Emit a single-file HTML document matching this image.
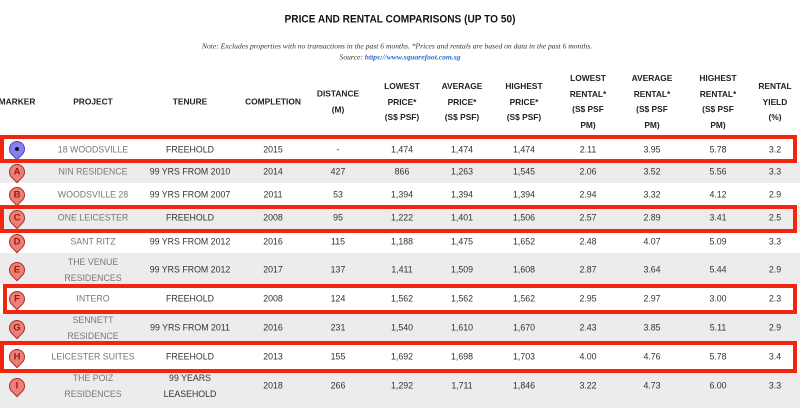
<!DOCTYPE html>
<html><head><meta charset="utf-8"><style>
*{margin:0;padding:0;box-sizing:border-box}
body{width:800px;height:408px;background:#fff;position:relative;overflow:hidden;font-family:"Liberation Sans",sans-serif}
.t{position:absolute;transform:translate(-50%,-50%);white-space:nowrap;text-align:center;font-size:8.8px;color:#333;line-height:11px}
.p{color:#777}
.h{font-weight:bold;color:#222;font-size:8.4px;line-height:15.5px}
.band{position:absolute;left:0;width:800px;background:#ececec}
.box{position:absolute;border:4px solid #f2260f}
.m{position:absolute;width:16px;height:16px;border-radius:50% 50% 50% 0;transform:rotate(-45deg);background:#ec7f76;border:1.5px solid #a33028}
.ml{position:absolute;transform:translate(-50%,-50%);font-size:9.5px;color:#9a1a12;font-weight:bold}
</style></head><body>
<div class="t" style="left:400px;top:20px;font-weight:bold;font-size:11px;color:#111;transform:translate(-50%,-50%) scaleX(0.92)">PRICE AND RENTAL COMPARISONS (UP TO 50)</div>
<div class="t" style="left:397px;top:46px;font-family:'Liberation Serif',serif;font-style:italic;font-size:7.6px;color:#333">Note: Excludes properties with no transactions in the past 6 months. *Prices and rentals are based on data in the past 6 months.</div>
<div class="t" style="left:400px;top:57px;font-family:'Liberation Serif',serif;font-style:italic;font-size:7.6px;color:#333">Source: <b style="color:#2a6fd0">https://www.squarefoot.com.sg</b></div>

<div class="t h" style="left:17px;top:102px">MARKER</div>
<div class="t h" style="left:93px;top:102px">PROJECT</div>
<div class="t h" style="left:190px;top:102px">TENURE</div>
<div class="t h" style="left:273px;top:102px">COMPLETION</div>
<div class="t h" style="left:338px;top:102px">DISTANCE<br>(M)</div>
<div class="t h" style="left:402px;top:102px">LOWEST<br>PRICE*<br>(S$ PSF)</div>
<div class="t h" style="left:462px;top:102px">AVERAGE<br>PRICE*<br>(S$ PSF)</div>
<div class="t h" style="left:524px;top:102px">HIGHEST<br>PRICE*<br>(S$ PSF)</div>
<div class="t h" style="left:588px;top:102px">LOWEST<br>RENTAL*<br>(S$ PSF<br>PM)</div>
<div class="t h" style="left:652px;top:102px">AVERAGE<br>RENTAL*<br>(S$ PSF<br>PM)</div>
<div class="t h" style="left:718px;top:102px">HIGHEST<br>RENTAL*<br>(S$ PSF<br>PM)</div>
<div class="t h" style="left:775px;top:102px">RENTAL<br>YIELD<br>(%)</div>

<div class="band" style="top:162px;height:21px"></div>
<div class="band" style="top:206px;height:26px"></div>
<div class="band" style="top:253px;height:31px"></div>
<div class="band" style="top:313px;height:28px"></div>
<div class="band" style="top:372px;height:36px"></div>

<!-- markers -->
<div class="m" style="left:9px;top:141px;background:#8a7ff0;border-color:#4a3fb0"></div>
<div style="position:absolute;left:15px;top:147px;width:4px;height:4px;border-radius:50%;background:#111"></div>
<div class="m" style="left:9px;top:164px"></div><div class="ml" style="left:17px;top:172px">A</div>
<div class="m" style="left:9px;top:187px"></div><div class="ml" style="left:17px;top:195px">B</div>
<div class="m" style="left:9px;top:210px"></div><div class="ml" style="left:17px;top:218px">C</div>
<div class="m" style="left:9px;top:234px"></div><div class="ml" style="left:17px;top:242px">D</div>
<div class="m" style="left:9px;top:262px"></div><div class="ml" style="left:17px;top:270px">E</div>
<div class="m" style="left:9px;top:291px"></div><div class="ml" style="left:17px;top:299px">F</div>
<div class="m" style="left:9px;top:320px"></div><div class="ml" style="left:17px;top:328px">G</div>
<div class="m" style="left:9px;top:349px"></div><div class="ml" style="left:17px;top:357px">H</div>
<div class="m" style="left:9px;top:378px"></div><div class="ml" style="left:17px;top:386px">I</div>

<!-- row 0 -->
<div class="t p" style="left:93px;top:150px">18 WOODSVILLE</div><div class="t" style="left:190px;top:150px">FREEHOLD</div><div class="t" style="left:273px;top:150px">2015</div><div class="t" style="left:338px;top:150px">-</div><div class="t" style="left:402px;top:150px">1,474</div><div class="t" style="left:462px;top:150px">1,474</div><div class="t" style="left:524px;top:150px">1,474</div><div class="t" style="left:588px;top:150px">2.11</div><div class="t" style="left:652px;top:150px">3.95</div><div class="t" style="left:718px;top:150px">5.78</div><div class="t" style="left:775px;top:150px">3.2</div>
<!-- A -->
<div class="t p" style="left:93px;top:172px">NIN RESIDENCE</div><div class="t" style="left:190px;top:172px">99 YRS FROM 2010</div><div class="t" style="left:273px;top:172px">2014</div><div class="t" style="left:338px;top:172px">427</div><div class="t" style="left:402px;top:172px">866</div><div class="t" style="left:462px;top:172px">1,263</div><div class="t" style="left:524px;top:172px">1,545</div><div class="t" style="left:588px;top:172px">2.06</div><div class="t" style="left:652px;top:172px">3.52</div><div class="t" style="left:718px;top:172px">5.56</div><div class="t" style="left:775px;top:172px">3.3</div>
<!-- B -->
<div class="t p" style="left:93px;top:195px">WOODSVILLE 28</div><div class="t" style="left:190px;top:195px">99 YRS FROM 2007</div><div class="t" style="left:273px;top:195px">2011</div><div class="t" style="left:338px;top:195px">53</div><div class="t" style="left:402px;top:195px">1,394</div><div class="t" style="left:462px;top:195px">1,394</div><div class="t" style="left:524px;top:195px">1,394</div><div class="t" style="left:588px;top:195px">2.94</div><div class="t" style="left:652px;top:195px">3.32</div><div class="t" style="left:718px;top:195px">4.12</div><div class="t" style="left:775px;top:195px">2.9</div>
<!-- C -->
<div class="t p" style="left:93px;top:218px">ONE LEICESTER</div><div class="t" style="left:190px;top:218px">FREEHOLD</div><div class="t" style="left:273px;top:218px">2008</div><div class="t" style="left:338px;top:218px">95</div><div class="t" style="left:402px;top:218px">1,222</div><div class="t" style="left:462px;top:218px">1,401</div><div class="t" style="left:524px;top:218px">1,506</div><div class="t" style="left:588px;top:218px">2.57</div><div class="t" style="left:652px;top:218px">2.89</div><div class="t" style="left:718px;top:218px">3.41</div><div class="t" style="left:775px;top:218px">2.5</div>
<!-- D -->
<div class="t p" style="left:93px;top:242px">SANT RITZ</div><div class="t" style="left:190px;top:242px">99 YRS FROM 2012</div><div class="t" style="left:273px;top:242px">2016</div><div class="t" style="left:338px;top:242px">115</div><div class="t" style="left:402px;top:242px">1,188</div><div class="t" style="left:462px;top:242px">1,475</div><div class="t" style="left:524px;top:242px">1,652</div><div class="t" style="left:588px;top:242px">2.48</div><div class="t" style="left:652px;top:242px">4.07</div><div class="t" style="left:718px;top:242px">5.09</div><div class="t" style="left:775px;top:242px">3.3</div>
<!-- E -->
<div class="t p" style="left:93px;top:270px;line-height:16px">THE VENUE<br>RESIDENCES</div><div class="t" style="left:190px;top:270px">99 YRS FROM 2012</div><div class="t" style="left:273px;top:270px">2017</div><div class="t" style="left:338px;top:270px">137</div><div class="t" style="left:402px;top:270px">1,411</div><div class="t" style="left:462px;top:270px">1,509</div><div class="t" style="left:524px;top:270px">1,608</div><div class="t" style="left:588px;top:270px">2.87</div><div class="t" style="left:652px;top:270px">3.64</div><div class="t" style="left:718px;top:270px">5.44</div><div class="t" style="left:775px;top:270px">2.9</div>
<!-- F -->
<div class="t p" style="left:93px;top:299px">INTERO</div><div class="t" style="left:190px;top:299px">FREEHOLD</div><div class="t" style="left:273px;top:299px">2008</div><div class="t" style="left:338px;top:299px">124</div><div class="t" style="left:402px;top:299px">1,562</div><div class="t" style="left:462px;top:299px">1,562</div><div class="t" style="left:524px;top:299px">1,562</div><div class="t" style="left:588px;top:299px">2.95</div><div class="t" style="left:652px;top:299px">2.97</div><div class="t" style="left:718px;top:299px">3.00</div><div class="t" style="left:775px;top:299px">2.3</div>
<!-- G -->
<div class="t p" style="left:93px;top:328px;line-height:16px">SENNETT<br>RESIDENCE</div><div class="t" style="left:190px;top:328px">99 YRS FROM 2011</div><div class="t" style="left:273px;top:328px">2016</div><div class="t" style="left:338px;top:328px">231</div><div class="t" style="left:402px;top:328px">1,540</div><div class="t" style="left:462px;top:328px">1,610</div><div class="t" style="left:524px;top:328px">1,670</div><div class="t" style="left:588px;top:328px">2.43</div><div class="t" style="left:652px;top:328px">3.85</div><div class="t" style="left:718px;top:328px">5.11</div><div class="t" style="left:775px;top:328px">2.9</div>
<!-- H -->
<div class="t p" style="left:93px;top:357px">LEICESTER SUITES</div><div class="t" style="left:190px;top:357px">FREEHOLD</div><div class="t" style="left:273px;top:357px">2013</div><div class="t" style="left:338px;top:357px">155</div><div class="t" style="left:402px;top:357px">1,692</div><div class="t" style="left:462px;top:357px">1,698</div><div class="t" style="left:524px;top:357px">1,703</div><div class="t" style="left:588px;top:357px">4.00</div><div class="t" style="left:652px;top:357px">4.76</div><div class="t" style="left:718px;top:357px">5.78</div><div class="t" style="left:775px;top:357px">3.4</div>
<!-- I -->
<div class="t p" style="left:93px;top:386px;line-height:16px">THE POIZ<br>RESIDENCES</div><div class="t" style="left:190px;top:386px;line-height:16px">99 YEARS<br>LEASEHOLD</div><div class="t" style="left:273px;top:386px">2018</div><div class="t" style="left:338px;top:386px">266</div><div class="t" style="left:402px;top:386px">1,292</div><div class="t" style="left:462px;top:386px">1,711</div><div class="t" style="left:524px;top:386px">1,846</div><div class="t" style="left:588px;top:386px">3.22</div><div class="t" style="left:652px;top:386px">4.73</div><div class="t" style="left:718px;top:386px">6.00</div><div class="t" style="left:775px;top:386px">3.3</div>

<div class="box" style="left:0;top:135px;width:797px;height:28px"></div>
<div class="box" style="left:0;top:205px;width:797px;height:28px"></div>
<div class="box" style="left:3px;top:284px;width:794px;height:30px"></div>
<div class="box" style="left:0;top:341px;width:797px;height:32px"></div>
</body></html>
